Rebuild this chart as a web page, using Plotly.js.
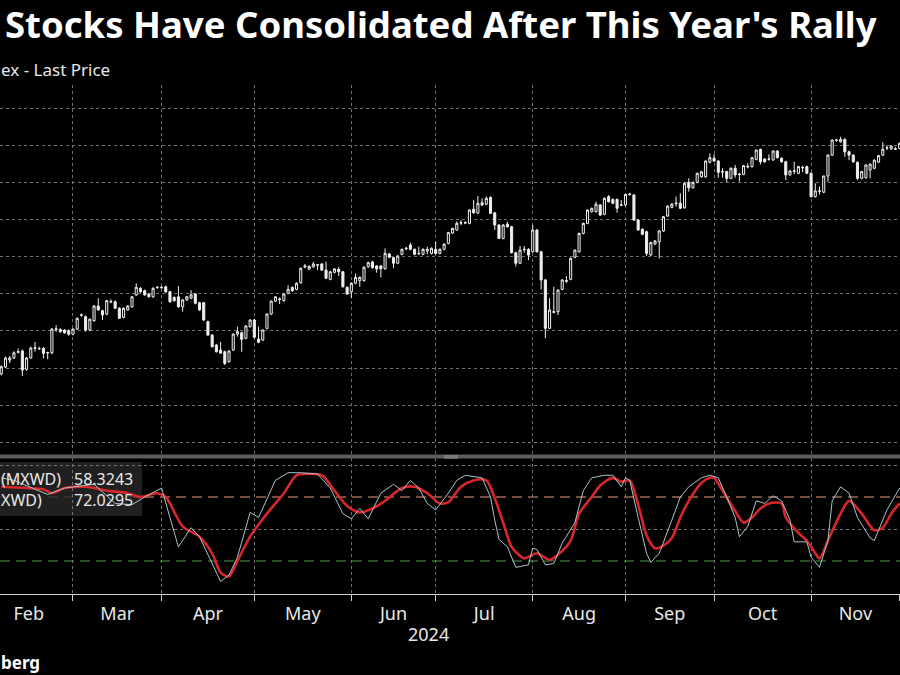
<!DOCTYPE html>
<html>
<head>
<meta charset="utf-8">
<script src="https://cdn.plot.ly/plotly-3.0.1.min.js"></script>
<style>
  html, body { margin: 0; padding: 0; background: #000; overflow: hidden; }
  #chart { width: 900px; height: 675px; }
</style>
</head>
<body>
<div id="chart"></div>
<script>
// MXWD daily candles, first visible session is trading day #4 (7 Feb 2024)
const firstCandle = 4;

const open = [
  736.8, 740.5, 744.3, 745.4, 748.5, 749.2, 739.3, 745.4, 750.6, 750.5,
  750.6, 748.1, 748.2, 760.8, 760.8, 760.5, 760.1, 758.2, 761.0, 768.4,
  767.7, 760.5, 765.5, 773.4, 770.9, 769.0, 775.6, 775.7, 772.2, 767.3,
  771.3, 773.0, 779.4, 783.0, 781.7, 779.9, 778.4, 783.3, 783.5, 783.8,
  781.1, 778.1, 778.4, 773.0, 776.7, 777.6, 779.9, 775.2, 775.2, 765.0,
  757.8, 752.4, 749.7, 748.8, 743.4, 749.7, 758.3, 759.0, 756.0, 762.3,
  765.9, 755.6, 755.1, 761.4, 769.1, 776.1, 777.2, 776.3, 780.3, 783.5,
  782.4, 786.0, 794.4, 793.3, 794.6, 795.7, 796.1, 792.8, 787.8, 791.6,
  793.2, 791.9, 783.5, 781.1, 785.7, 787.1, 787.1, 794.6, 797.2, 795.0,
  795.0, 793.5, 801.5, 799.5, 796.5, 801.3, 804.3, 806.3, 804.0, 801.6,
  801.3, 803.1, 801.8, 804.0, 801.8, 804.0, 807.2, 812.8, 814.4, 818.1,
  818.4, 818.0, 825.6, 823.5, 829.1, 828.3, 832.0, 823.7, 817.1, 809.9,
  817.6, 816.2, 802.2, 796.5, 803.8, 804.0, 802.7, 814.4, 802.7, 787.5,
  761.4, 770.0, 770.4, 782.4, 786.7, 787.8, 799.7, 802.7, 812.6, 818.0,
  824.3, 824.3, 827.9, 822.9, 832.4, 830.9, 830.9, 827.7, 827.9, 833.5,
  833.3, 819.8, 814.8, 813.5, 801.0, 806.8, 808.1, 813.9, 822.0, 826.6,
  828.6, 828.9, 826.4, 840.1, 837.2, 840.1, 843.1, 843.1, 850.9, 853.1,
  851.6, 845.6, 845.9, 842.3, 847.7, 844.3, 844.4, 848.4, 848.6, 852.5,
  857.9, 852.7, 852.6, 852.2, 857.0, 853.1, 851.2, 844.1, 846.0, 845.0,
  848.2, 848.6, 845.0, 832.4, 835.3, 834.8, 843.5, 854.8, 862.7, 862.0,
  863.3, 856.6, 854.8, 850.9, 842.3, 842.6, 846.8, 847.7, 851.0, 854.8,
  858.6, 858.1, 858.2, 858.4
];
const high = [
  741.5, 746.2, 746.5, 749.0, 750.6, 750.0, 746.0, 751.5, 754.1, 751.5,
  751.3, 748.8, 761.5, 763.2, 761.4, 761.0, 760.8, 761.4, 767.2, 769.5,
  768.3, 766.7, 774.0, 777.6, 771.5, 776.7, 777.0, 776.4, 772.8, 772.7,
  774.0, 778.9, 785.7, 783.6, 782.3, 780.4, 783.5, 784.2, 784.2, 784.4,
  781.7, 778.6, 784.2, 777.1, 778.9, 782.0, 780.4, 775.7, 775.7, 765.5,
  758.3, 753.0, 754.1, 749.4, 749.5, 758.6, 762.3, 759.6, 763.1, 766.3,
  766.5, 762.3, 760.8, 769.4, 776.4, 778.9, 778.1, 780.4, 784.7, 784.0,
  786.2, 794.2, 796.1, 795.3, 797.3, 795.8, 796.6, 797.3, 792.4, 793.9,
  794.5, 792.4, 784.0, 786.2, 791.0, 789.4, 794.8, 797.3, 797.8, 795.5,
  795.5, 804.5, 802.0, 800.0, 800.9, 804.4, 805.2, 807.6, 804.5, 805.4,
  804.5, 805.4, 805.0, 808.1, 804.5, 807.3, 813.4, 815.6, 819.0, 819.8,
  819.2, 825.5, 830.6, 832.7, 831.5, 832.4, 832.5, 824.2, 817.6, 817.6,
  818.9, 816.7, 802.7, 805.8, 805.8, 804.6, 817.1, 814.9, 803.2, 788.0,
  777.6, 783.8, 782.5, 787.9, 789.6, 799.6, 803.9, 813.0, 818.4, 825.5,
  826.5, 829.7, 828.4, 832.0, 833.3, 831.4, 831.4, 830.6, 834.0, 834.4,
  833.8, 820.3, 815.3, 814.0, 808.1, 809.0, 814.3, 822.0, 827.7, 828.9,
  832.4, 834.2, 840.0, 842.3, 840.6, 845.3, 846.3, 852.0, 855.7, 855.2,
  852.1, 847.7, 846.4, 848.2, 849.5, 845.2, 849.5, 850.4, 853.7, 857.8,
  858.3, 853.2, 855.2, 857.3, 857.5, 853.6, 851.7, 846.7, 851.2, 849.0,
  849.1, 849.1, 845.5, 839.6, 837.8, 843.8, 855.2, 863.3, 863.6, 864.7,
  863.8, 857.1, 855.3, 851.4, 846.3, 849.8, 850.3, 852.5, 854.9, 861.7,
  860.2, 860.0, 859.3, 861.6
];
const low = [
  736.0, 740.0, 742.7, 744.8, 747.9, 735.7, 738.5, 745.0, 748.8, 749.8,
  745.2, 744.7, 747.5, 759.6, 759.0, 758.5, 757.4, 757.6, 760.5, 767.7,
  759.6, 760.0, 765.0, 770.9, 765.9, 768.5, 774.9, 771.8, 766.4, 766.8,
  770.8, 772.5, 778.9, 780.6, 779.0, 778.0, 777.9, 782.8, 782.8, 780.6,
  775.2, 775.8, 772.5, 770.4, 776.2, 777.1, 774.4, 770.8, 765.4, 757.3,
  751.0, 748.3, 747.9, 741.6, 742.9, 749.2, 756.9, 748.8, 755.5, 761.8,
  756.0, 753.4, 754.6, 760.9, 768.6, 775.6, 774.5, 775.8, 779.8, 781.0,
  781.9, 785.5, 793.8, 792.8, 794.0, 792.8, 792.4, 787.9, 787.3, 791.0,
  789.6, 783.4, 779.4, 777.6, 785.2, 783.8, 786.6, 794.1, 793.6, 791.4,
  788.9, 793.0, 799.2, 793.8, 796.0, 800.8, 803.5, 803.5, 800.8, 800.9,
  800.8, 801.3, 801.3, 801.3, 801.3, 803.5, 806.7, 812.3, 814.0, 817.0,
  817.6, 817.5, 823.2, 823.0, 827.3, 827.8, 823.0, 814.4, 809.5, 809.4,
  815.6, 801.7, 794.8, 796.0, 802.2, 798.2, 802.2, 802.2, 782.4, 756.0,
  760.9, 769.5, 768.6, 782.0, 786.0, 787.3, 799.2, 802.2, 812.1, 817.5,
  823.8, 823.8, 822.0, 822.4, 829.2, 828.4, 823.7, 827.3, 827.4, 833.0,
  819.3, 814.0, 811.6, 800.4, 800.4, 806.3, 799.1, 813.4, 821.5, 826.1,
  827.0, 825.7, 825.9, 835.1, 836.7, 839.6, 842.6, 842.6, 850.4, 851.2,
  842.6, 842.6, 840.2, 841.8, 842.6, 840.5, 844.0, 847.7, 848.1, 852.0,
  849.8, 850.7, 851.8, 851.7, 852.9, 850.7, 841.3, 843.6, 844.5, 844.5,
  845.6, 844.5, 831.9, 831.9, 833.6, 834.3, 840.5, 854.3, 862.0, 861.5,
  854.0, 852.1, 850.7, 841.4, 841.8, 842.1, 842.3, 847.2, 850.5, 854.3,
  857.5, 857.6, 857.6, 857.9
];
const close = [
  740.7, 745.4, 745.4, 748.2, 748.8, 738.9, 745.4, 750.8, 750.9, 750.4,
  747.9, 748.3, 761.0, 761.1, 759.6, 759.0, 758.2, 761.0, 766.8, 768.6,
  760.5, 766.3, 773.4, 771.3, 768.6, 776.3, 775.9, 772.2, 766.8, 772.2,
  773.4, 778.4, 783.5, 781.1, 779.4, 778.4, 783.0, 783.5, 783.3, 781.1,
  775.7, 776.3, 773.0, 776.7, 778.4, 779.4, 774.9, 771.3, 765.9, 757.8,
  751.5, 748.8, 748.0, 742.5, 749.2, 758.3, 759.6, 755.5, 762.7, 765.9,
  756.6, 753.9, 760.5, 769.1, 776.1, 778.4, 777.0, 779.9, 782.4, 781.7,
  785.7, 793.8, 795.0, 794.8, 796.1, 795.5, 792.8, 788.4, 791.9, 793.4,
  791.9, 783.8, 779.9, 785.7, 788.9, 788.9, 794.3, 796.8, 794.1, 793.5,
  793.5, 801.8, 799.7, 796.5, 800.4, 804.0, 804.6, 804.0, 801.3, 801.8,
  804.0, 804.0, 804.6, 801.8, 804.0, 806.8, 813.0, 815.3, 818.0, 818.4,
  818.2, 825.2, 823.7, 828.8, 827.9, 831.5, 823.4, 817.1, 809.9, 817.1,
  816.2, 802.2, 796.5, 803.6, 804.0, 800.9, 814.4, 802.7, 787.5, 761.4,
  771.3, 770.4, 782.0, 787.5, 787.1, 799.1, 803.6, 812.6, 818.0, 825.2,
  826.1, 828.3, 822.5, 831.5, 829.7, 828.8, 826.1, 827.9, 833.6, 833.8,
  819.8, 814.4, 812.1, 801.8, 807.6, 808.5, 813.9, 821.6, 827.3, 828.4,
  828.9, 826.1, 839.6, 837.2, 840.1, 845.0, 845.8, 851.6, 853.4, 851.6,
  845.5, 845.9, 842.3, 847.7, 844.1, 844.5, 849.1, 848.7, 853.4, 857.5,
  851.2, 851.2, 852.7, 857.0, 853.4, 851.2, 844.1, 846.2, 846.3, 848.6,
  848.0, 845.0, 832.4, 835.5, 835.5, 843.5, 854.8, 862.9, 862.9, 863.3,
  856.6, 854.8, 851.2, 842.3, 845.9, 849.5, 849.9, 852.1, 854.5, 858.0,
  858.8, 859.6, 858.0, 861.1
];

// oscillator panel: trading-day number and reading
const fastDay = [4, 7, 15, 19, 26, 31, 35, 38, 42, 46, 49, 51, 56, 58, 60, 63, 65, 69, 72, 75,
  79, 82, 85, 87, 89, 91, 94, 97, 99, 101, 103, 105, 107, 110, 112, 114, 118, 120, 121, 122,
  124, 126, 129, 130, 131, 133, 135, 137, 140, 142, 144, 147, 149, 151, 152, 153, 155, 157, 158, 160,
  163, 165, 167, 170, 172, 174, 176, 178, 179, 181, 183, 185, 187, 189, 191, 192, 195, 196, 198, 200,
  201, 203, 205, 207, 210, 211, 214, 217];
const fastVal = [90, 88, 77, 82, 85, 70, 69, 75, 82, 36, 51, 44, 9, 14, 28, 63, 59, 88, 94, 94,
  93, 82, 62, 58, 66, 58, 78, 85, 80, 88, 82, 70, 65, 78, 88, 92, 90, 75, 57, 42,
  36, 20, 22, 35, 34, 22, 23, 39, 55, 80, 90, 92, 92, 83, 90, 88, 59, 31, 24, 31,
  57, 75, 83, 90, 92, 90, 75, 59, 44, 52, 72, 70, 76, 72, 57, 40, 40, 28, 20, 41,
  72, 83, 78, 59, 43, 41, 65, 82];
const slowDay = [4, 10, 14, 16, 19, 24, 29, 34, 37, 41, 43, 47, 51, 54, 56, 58, 60, 63, 67, 71,
  74, 77, 80, 83, 86, 89, 92, 95, 99, 102, 105, 108, 110, 113, 116, 119, 121, 123, 125, 127,
  128, 131, 134, 136, 139, 141, 144, 146, 149, 151, 153, 155, 157, 159, 161, 163, 165, 167, 170, 172,
  173, 175, 178, 180, 182, 184, 186, 189, 190, 193, 195, 197, 198, 200, 203, 205, 208, 211, 213, 215,
  217];
const slowVal = [83, 82, 81, 78, 82, 83, 80, 78, 75, 78, 75, 52, 44, 31, 16, 13, 25, 44, 62, 78,
  92, 93, 92, 80, 68, 63, 66, 72, 82, 83, 78, 70, 71, 83, 88, 88, 74, 55, 36, 29,
  27, 31, 26, 30, 41, 62, 75, 84, 90, 87, 88, 69, 45, 35, 37, 43, 59, 72, 86, 90,
  90, 80, 64, 55, 59, 66, 70, 70, 59, 47, 41, 31, 27, 41, 62, 72, 62, 49, 51, 62,
  70];

const monthNames = ['Feb', 'Mar', 'Apr', 'May', 'Jun', 'Jul', 'Aug', 'Sep', 'Oct', 'Nov'];
const legendNames = ['(MXWD)', 'XWD)'];
const legendValues = ['58.3243', '72.0295'];
const priceGrid = [700, 720, 740, 760, 780, 800, 820, 840, 860, 880];
const oscGrid = [50, 100];
const upperBand = 75;
const lowerBand = 25;

// weekday calendar, the chart skips weekends
function tradingDays(start, end) {
  let out = [];
  let d = new Date(start + 'T00:00:00Z');
  let e = new Date(end + 'T00:00:00Z');
  while (d <= e) {
    let wd = d.getUTCDay();
    if (wd !== 0 && wd !== 6) out.push(d.toISOString().slice(0, 10));
    d.setUTCDate(d.getUTCDate() + 1);
  }
  return out;
}
const days = tradingDays('2024-02-01', '2024-12-31');
const candleDates = open.map((_, k) => days[firstCandle + k]);

// first session of each month -> ticks / grid, middle session -> label
let monthStarts = [];
days.forEach((d, i) => {
  if (i === 0 || d.slice(5, 7) !== days[i - 1].slice(5, 7)) monthStarts.push(i);
});
const tickDates = monthStarts.map(i => days[i]);
const labelDates = monthNames.map((_, m) => {
  let mid = (monthStarts[m] + monthStarts[m + 1]) / 2;
  let d = days[Math.floor(mid)];
  return (mid % 1) ? d + ' 12:00' : d;
});

const W = 900;
// paper y from a pixel row (plot area spans rows 85..594)
function py(row) { return 1 - (row - 85) / 509; }

let candles = {
  type: 'candlestick',
  x: candleDates, open: open, high: high, low: low, close: close,
  xaxis: 'x', yaxis: 'y',
  increasing: {line: {color: '#f0f0f0', width: 1}, fillcolor: '#000000'},
  decreasing: {line: {color: '#f0f0f0', width: 1}, fillcolor: '#f0f0f0'},
  whiskerwidth: 0,
  hoverinfo: 'skip'
};

let fast = {
  type: 'scatter', mode: 'lines',
  x: fastDay.map(i => days[i]), y: fastVal,
  xaxis: 'x', yaxis: 'y2',
  line: {color: '#a9c4cc', width: 1},
  hoverinfo: 'skip'
};

let slow = {
  type: 'scatter', mode: 'lines',
  x: slowDay.map(i => days[i]), y: slowVal,
  xaxis: 'x', yaxis: 'y2',
  line: {color: '#d8262a', width: 2.6, shape: 'spline', smoothing: 0.8},
  hoverinfo: 'skip'
};

// empty trace so the label axis gets drawn
let labelHolder = {
  type: 'scatter', mode: 'markers', x: [labelDates[0]], y: [-50],
  xaxis: 'x2', yaxis: 'y2', marker: {opacity: 0}, hoverinfo: 'skip'
};

let txt = '#e8e8e8';
const xRange = ['2024-02-06 16:48', '2024-12-02 02:00'];
const breaks = [{bounds: ['sat', 'mon']}];

let layout = {
  width: 900, height: 675,
  paper_bgcolor: '#000000', plot_bgcolor: 'rgba(0,0,0,0)',
  margin: {l: 0, r: 0, t: 85, b: 81},
  showlegend: false,
  font: {family: 'Noto Sans, sans-serif', color: txt},
  xaxis: {
    type: 'date', range: xRange, rangebreaks: breaks,
    rangeslider: {visible: false},
    anchor: 'y2',
    tickmode: 'array', tickvals: tickDates, showticklabels: false,
    ticks: 'outside', ticklen: 6, tickcolor: '#d0d0d0',
    showgrid: true, gridcolor: '#707070', griddash: 'dot', gridwidth: 1,
    showline: true, linecolor: '#d0d0d0', linewidth: 1,
    zeroline: false, fixedrange: true
  },
  xaxis2: {
    type: 'date', range: xRange, rangebreaks: breaks,
    overlaying: 'x', anchor: 'y2', side: 'bottom',
    tickmode: 'array', tickvals: labelDates, ticktext: monthNames,
    ticks: 'outside', ticklen: 3, tickcolor: 'rgba(0,0,0,0)',
    tickfont: {size: 18, color: txt},
    showgrid: false, showline: false, zeroline: false, fixedrange: true
  },
  yaxis: {
    domain: [py(455), 1],
    range: [693.1, 892.6],
    tickmode: 'array', tickvals: priceGrid,
    showticklabels: false, ticks: '',
    showgrid: true, gridcolor: '#707070', griddash: 'dot', gridwidth: 1,
    zeroline: false, showline: false, fixedrange: true
  },
  yaxis2: {
    domain: [0, py(458)],
    range: [-0.8, 105.5],
    tickmode: 'array', tickvals: oscGrid,
    showticklabels: false, ticks: '',
    showgrid: true, gridcolor: '#707070', griddash: 'dot', gridwidth: 1,
    zeroline: false, showline: false, fixedrange: true
  },
  shapes: [
    {type: 'line', xref: 'paper', yref: 'y2', x0: 0, x1: 1, y0: upperBand, y1: upperBand,
     line: {color: '#e89c86', width: 1, dash: '10px,6px'}, layer: 'below'},
    {type: 'line', xref: 'paper', yref: 'y2', x0: 0, x1: 1, y0: lowerBand, y1: lowerBand,
     line: {color: '#4c9a4c', width: 1, dash: '10px,6px'}, layer: 'below'},
    // panel divider
    {type: 'line', xref: 'paper', yref: 'paper', x0: 0, x1: 1, y0: py(456.5), y1: py(456.5),
     line: {color: '#5c5c5c', width: 4}},
    {type: 'line', xref: 'paper', yref: 'paper', x0: 444 / W, x1: 458 / W, y0: py(456), y1: py(456),
     line: {color: '#9a9a9a', width: 1}},
    {type: 'line', xref: 'paper', yref: 'paper', x0: 444 / W, x1: 458 / W, y0: py(458), y1: py(458),
     line: {color: '#9a9a9a', width: 1}},
    // legend box
    {type: 'rect', xref: 'paper', yref: 'paper', x0: -0.01, x1: 142 / W, y0: py(516), y1: py(462),
     fillcolor: 'rgba(38,38,38,0.85)', line: {width: 0}, layer: 'below'}
  ],
  annotations: [
    {text: "Stocks Have Consolidated After This Year's Rally", xref: 'paper', yref: 'paper',
     x: 3 / W, y: py(24), xanchor: 'left', yanchor: 'middle', showarrow: false,
     font: {size: 36.5, color: '#ffffff', weight: 700}},
    {text: 'ex - Last Price', xref: 'paper', yref: 'paper',
     x: -1 / W, y: py(70), xanchor: 'left', yanchor: 'middle', showarrow: false,
     font: {size: 17, color: txt}},
    {text: legendNames.join('<br>'), xref: 'paper', yref: 'paper', x: -1 / W, y: py(489),
     xanchor: 'left', yanchor: 'middle', align: 'left', showarrow: false,
     font: {size: 16, color: txt}},
    {text: legendValues.join('<br>'), xref: 'paper', yref: 'paper', x: 135 / W, y: py(489),
     xanchor: 'right', yanchor: 'middle', align: 'right', showarrow: false,
     font: {size: 16, color: txt}},
    {text: '2024', xref: 'paper', yref: 'paper', x: 428 / W, y: py(634),
     xanchor: 'center', yanchor: 'middle', showarrow: false, font: {size: 18, color: txt}},
    {text: 'berg', xref: 'paper', yref: 'paper', x: -1 / W, y: py(662),
     xanchor: 'left', yanchor: 'middle', showarrow: false,
     font: {size: 17, color: '#ffffff', weight: 700}}
  ]
};

Plotly.newPlot('chart', [slow, fast, candles, labelHolder], layout, {staticPlot: true, displayModeBar: false});
</script>
</body>
</html>
